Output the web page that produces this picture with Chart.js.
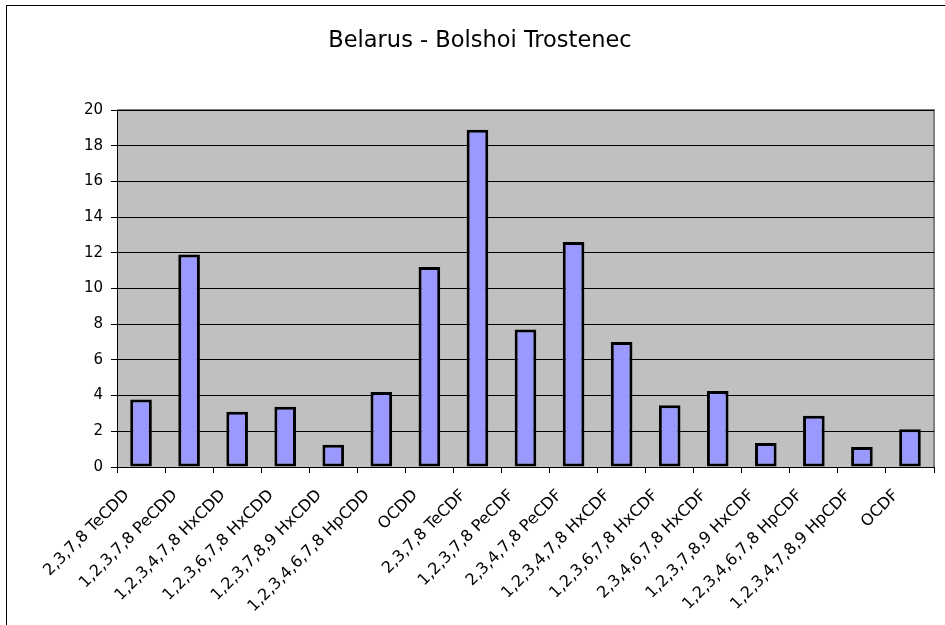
<!DOCTYPE html>
<html>
<head>
<meta charset="utf-8">
<script src="https://cdn.jsdelivr.net/npm/chart.js@4"></script>
<style>
  html, body { margin: 0; padding: 0; background: #fff; }
  #wrap { width: 945px; height: 625px; }
</style>
</head>
<body>
<div id="wrap"><canvas id="barChart" width="945" height="625"></canvas></div>
<script>
const title = 'Belarus - Bolshoi Trostenec';
const categories = [
  '2,3,7,8 TeCDD', '1,2,3,7,8 PeCDD', '1,2,3,4,7,8 HxCDD', '1,2,3,6,7,8 HxCDD',
  '1,2,3,7,8,9 HxCDD', '1,2,3,4,6,7,8 HpCDD', 'OCDD', '2,3,7,8 TeCDF',
  '1,2,3,7,8 PeCDF', '2,3,4,7,8 PeCDF', '1,2,3,4,7,8 HxCDF', '1,2,3,6,7,8 HxCDF',
  '2,3,4,6,7,8 HxCDF', '1,2,3,7,8,9 HxCDF', '1,2,3,4,6,7,8 HpCDF', '1,2,3,4,7,8,9 HpCDF',
  'OCDF'
];
const values = [3.78, 11.9, 3.1, 3.37, 1.25, 4.2, 11.2, 18.9, 7.7, 12.6, 7.0, 3.46, 4.26, 1.34, 2.87, 1.12, 2.12];
const yMin = 0;
const yMax = 20;
const yStep = 2;

const font = "'DejaVu Sans', Arial, sans-serif";

// grey plot background, grey top/right edge and the outer frame
const frame = {
  id: 'frame',
  beforeDraw(chart) {
    const { ctx, chartArea: a } = chart;
    ctx.save();
    ctx.strokeStyle = '#000';
    ctx.lineWidth = 1;
    ctx.strokeRect(6.5, 5.5, 960, 640);
    ctx.fillStyle = '#c0c0c0';
    ctx.fillRect(a.left, a.top, a.right - a.left, a.bottom - a.top);
    ctx.strokeStyle = '#808080';
    ctx.lineWidth = 2;
    ctx.beginPath();
    ctx.moveTo(a.left, a.top);
    ctx.lineTo(a.right, a.top);
    ctx.lineTo(a.right, a.bottom);
    ctx.stroke();
    ctx.restore();
  }
};

const ctx = document.getElementById('barChart').getContext('2d');
const myChart = new Chart(ctx, {
  type: 'bar',
  data: {
    labels: categories,
    datasets: [{
      data: values,
      backgroundColor: '#9999ff',
      borderColor: '#000',
      borderWidth: 3,
      borderSkipped: false,
      barPercentage: 0.45,
      categoryPercentage: 1
    }]
  },
  options: {
    responsive: false,
    animation: false,
    events: [],
    layout: { padding: { top: 0, right: 11, bottom: 0, left: 26 } },
    plugins: {
      legend: { display: false },
      tooltip: { enabled: false },
      title: {
        display: true,
        text: title,
        color: '#000',
        font: { family: font, size: 22.5, weight: 'normal' },
        padding: { top: 27.5, bottom: 55.5 }
      }
    },
    scales: {
      x: {
        grid: { drawOnChartArea: false, color: '#000', tickLength: 6, offset: true },
        border: { color: '#000', width: 1 },
        ticks: {
          color: '#000',
          font: { family: font, size: 16 },
          minRotation: 45,
          maxRotation: 45,
          autoSkip: false,
          labelOffset: -14,
          padding: 13
        },
        afterFit(scale) { scale.height = 158; }
      },
      y: {
        min: yMin,
        max: yMax,
        grid: { color: '#000', tickLength: 6 },
        border: { color: '#000', width: 1 },
        ticks: {
          stepSize: yStep,
          color: '#000',
          font: { family: font, size: 15 },
          padding: 8
        },
        afterFit(scale) { scale.width = 91; }
      }
    }
  },
  plugins: [frame]
});
</script>
</body>
</html>
